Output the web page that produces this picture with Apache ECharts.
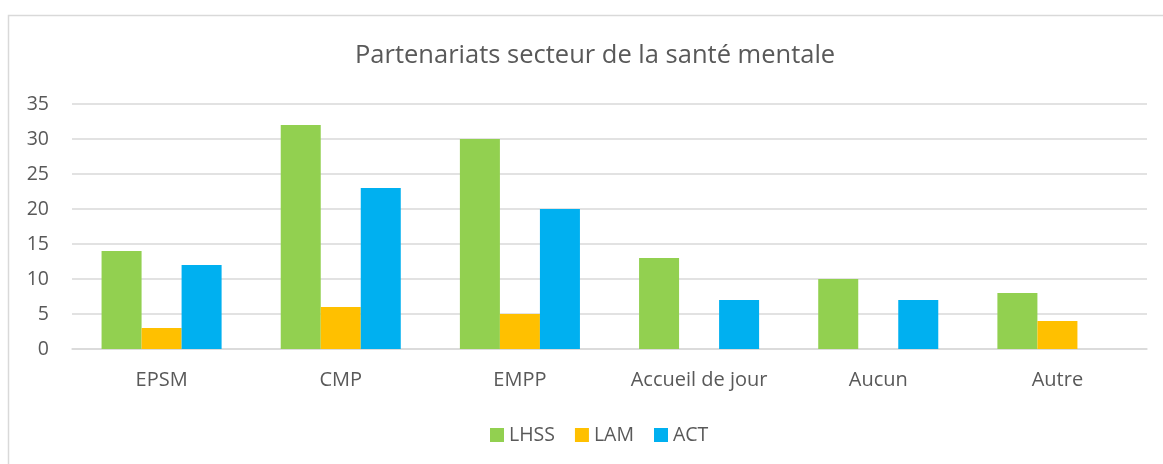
<!DOCTYPE html>
<html>
<head>
<meta charset="utf-8">
<script src="https://cdn.jsdelivr.net/npm/echarts@6/dist/echarts.min.js"></script>
<style>
  html, body { margin: 0; padding: 0; background: #fff; }
  #chart { width: 1163px; height: 464px; }
</style>
</head>
<body>
<div id="chart"></div>
<script>
// data
const categories = ['EPSM', 'CMP', 'EMPP', 'Accueil de jour', 'Aucun', 'Autre']
const lhss = [14, 32, 30, 13, 10, 8]
const lam = [3, 6, 5, 0, 0, 4]
const act = [12, 23, 20, 7, 7, 0]
const yTicks = { min: 0, max: 35, interval: 5 }

const font = '"Open Sans", "Noto Sans", sans-serif'
const textColor = '#595959'

const chart = echarts.init(document.getElementById('chart'))

const mkSeries = (name, data, color) => ({
  name: name,
  type: 'bar',
  data: data,
  barGap: '0%',
  barCategoryGap: '33%',
  itemStyle: { color: color },
  animation: false
})

chart.setOption({
  backgroundColor: '#fff',
  graphic: [{
    type: 'rect',
    shape: { x: 8.5, y: 15.5, width: 1200, height: 500 },
    style: { fill: 'none', stroke: '#d9d9d9', lineWidth: 1.5 },
    silent: true
  }],
  title: {
    text: 'Partenariats secteur de la santé mentale',
    left: 350,
    top: 38,
    textStyle: { fontFamily: font, fontSize: 25.5, fontWeight: 'normal', color: textColor }
  },
  legend: {
    bottom: 14,
    left: 485,
    itemWidth: 14,
    itemHeight: 14,
    itemGap: 20,
    icon: 'rect',
    textStyle: { fontFamily: font, fontSize: 19.5, color: textColor },
    data: ['LHSS', 'LAM', 'ACT']
  },
  grid: {
    left: 72,
    right: 16,
    top: 104,
    bottom: 115,
    containLabel: false
  },
  xAxis: {
    type: 'category',
    data: categories,
    axisTick: { show: false },
    axisLine: { lineStyle: { color: '#d9d9d9', width: 1.5 } },
    axisLabel: { fontFamily: font, fontSize: 20, color: textColor, margin: 21 }
  },
  yAxis: {
    type: 'value',
    min: yTicks.min,
    max: yTicks.max,
    interval: yTicks.interval,
    axisLine: { show: false },
    axisTick: { show: false },
    axisLabel: { fontFamily: font, fontSize: 19.5, color: textColor, margin: 23 },
    splitLine: { lineStyle: { color: '#d9d9d9', width: 1.5 } }
  },
  series: [
    mkSeries('LHSS', lhss, '#92D050'),
    mkSeries('LAM', lam, '#FFC000'),
    mkSeries('ACT', act, '#00B0F0')
  ]
})
</script>
</body>
</html>
